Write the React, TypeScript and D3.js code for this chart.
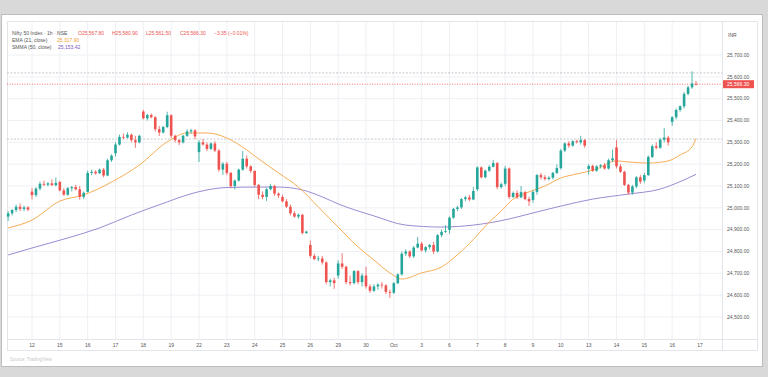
import React from 'react';
import * as d3 from 'd3';

// ---- Data (hourly candles, Nifty 50 Index, NSE) ----
const opens = [
  24960, 24975, 24990, 25005, 24995, 25002,
  25074, 25058, 25088, 25110, 25106, 25112, 25104,
  25118, 25080, 25060, 25090, 25095, 25085, 25050,
  25073, 25160, 25165, 25158, 25175, 25148, 25218,
  25250, 25290, 25325, 25322, 25335, 25310, 25300,
  25441, 25410, 25425, 25415, 25360, 25345, 25370,
  25424, 25330, 25310, 25300, 25330, 25350, 25355,
  25255, 25300, 25290, 25270, 25295, 25262, 25175,
  25202, 25160, 25100, 25125, 25175, 25225, 25190,
  25169, 25105, 25060, 25050, 25085, 25100, 25065,
  25050, 25030, 25005, 24975, 24960, 24968, 24885,
  24830, 24780, 24765, 24768, 24750, 24660, 24668,
  24690, 24745, 24730, 24660, 24655, 24710, 24660,
  24690, 24640, 24620, 24640, 24648, 24645, 24615,
  24611, 24655, 24695, 24790, 24800, 24778, 24818,
  24836, 24805, 24820, 24830, 24800, 24875, 24890,
  24899, 24955, 24995, 25002, 25040, 25048, 25038,
  25085, 25185, 25140, 25170, 25188, 25205, 25095,
  25110, 25180, 25050, 25068, 25048, 25072, 25040,
  25036, 25073, 25150, 25140, 25132, 25138, 25160,
  25182, 25262, 25295, 25285, 25305, 25300, 25310,
  25178, 25192, 25170, 25190, 25195, 25180, 25218,
  25277, 25190, 25165, 25105, 25070, 25098, 25140,
  25125, 25150, 25233, 25282, 25275, 25312, 25322,
  25394, 25415, 25448, 25465, 25522, 25552, 25567.8,
];
const highs = [
  24985, 24995, 25015, 25020, 25010, 25008,
  25090, 25095, 25120, 25125, 25118, 25130, 25139,
  25124, 25090, 25095, 25100, 25105, 25100, 25075,
  25170, 25175, 25172, 25180, 25182, 25225, 25245,
  25300, 25335, 25340, 25346, 25340, 25330, 25335,
  25449, 25430, 25432, 25420, 25375, 25375, 25440,
  25428, 25335, 25315, 25335, 25360, 25362, 25360,
  25310, 25315, 25300, 25300, 25305, 25270, 25210,
  25210, 25165, 25130, 25180, 25261, 25240, 25195,
  25171, 25110, 25075, 25090, 25110, 25105, 25070,
  25060, 25040, 25015, 24985, 24975, 24972, 24895,
  24850, 24790, 24780, 24780, 24755, 24675, 24680,
  24760, 24792, 24735, 24690, 24715, 24715, 24700,
  24731, 24650, 24650, 24655, 24660, 24650, 24625,
  24660, 24700, 24800, 24810, 24805, 24825, 24867,
  24845, 24825, 24835, 24845, 24880, 24900, 24920,
  24960, 25000, 25010, 25045, 25055, 25060, 25095,
  25190, 25190, 25175, 25195, 25220, 25210, 25115,
  25192, 25185, 25075, 25080, 25100, 25078, 25050,
  25080, 25155, 25160, 25150, 25145, 25165, 25199,
  25270, 25300, 25305, 25310, 25312, 25330, 25315,
  25200, 25198, 25195, 25200, 25205, 25225, 25267,
  25310, 25200, 25170, 25110, 25105, 25145, 25150,
  25160, 25240, 25290, 25300, 25320, 25365, 25330,
  25420, 25455, 25470, 25530, 25560, 25625, 25580.9,
];
const lows = [
  24940, 24965, 24980, 24985, 24985, 24985,
  25038, 25050, 25080, 25100, 25098, 25100, 25098,
  25075, 25055, 25055, 25075, 25080, 25038, 25040,
  25070, 25150, 25152, 25155, 25140, 25145, 25210,
  25235, 25285, 25315, 25318, 25300, 25275, 25295,
  25405, 25400, 25410, 25350, 25329, 25340, 25365,
  25320, 25300, 25287, 25295, 25325, 25340, 25315,
  25210, 25285, 25260, 25265, 25255, 25165, 25151,
  25150, 25090, 25084, 25120, 25170, 25180, 25160,
  25095, 25040, 25040, 25031, 25080, 25055, 25045,
  25025, 25000, 24965, 24955, 24950, 24878, 24880,
  24770, 24760, 24755, 24740, 24650, 24640, 24629,
  24675, 24720, 24650, 24645, 24650, 24650, 24640,
  24630, 24610, 24615, 24625, 24630, 24605, 24587,
  24605, 24650, 24690, 24780, 24770, 24770, 24815,
  24800, 24795, 24810, 24788, 24795, 24865, 24885,
  24882, 24950, 24985, 24995, 25030, 25030, 25035,
  25076, 25135, 25135, 25165, 25185, 25085, 25088,
  25100, 25040, 25045, 25040, 25045, 25035, 25009,
  25024, 25060, 25130, 25125, 25125, 25130, 25155,
  25175, 25255, 25275, 25280, 25295, 25290, 25275,
  25152, 25165, 25165, 25180, 25175, 25175, 25210,
  25180, 25160, 25100, 25060, 25060, 25090, 25110,
  25115, 25145, 25228, 25268, 25270, 25300, 25285,
  25376, 25405, 25440, 25455, 25515, 25545, 25561.5,
];
const closes = [
  24975, 24990, 25005, 24995, 25002, 24992,
  25058, 25088, 25110, 25106, 25112, 25104, 25114,
  25080, 25060, 25090, 25095, 25085, 25050, 25069,
  25160, 25165, 25158, 25175, 25148, 25218, 25239,
  25290, 25325, 25322, 25335, 25310, 25300, 25330,
  25410, 25425, 25415, 25360, 25345, 25370, 25424,
  25330, 25310, 25300, 25330, 25350, 25355, 25327,
  25300, 25290, 25270, 25295, 25262, 25175, 25202,
  25160, 25100, 25125, 25175, 25225, 25190, 25169,
  25105, 25060, 25050, 25085, 25100, 25065, 25057,
  25030, 25005, 24975, 24960, 24968, 24885, 24891,
  24780, 24765, 24768, 24750, 24660, 24668, 24655,
  24745, 24730, 24660, 24655, 24710, 24660, 24690,
  24640, 24620, 24640, 24648, 24645, 24615, 24611,
  24655, 24695, 24790, 24800, 24778, 24818, 24836,
  24805, 24820, 24830, 24800, 24875, 24890, 24894,
  24955, 24995, 25002, 25040, 25048, 25038, 25077,
  25185, 25140, 25170, 25188, 25205, 25095, 25108,
  25180, 25050, 25068, 25048, 25072, 25040, 25030,
  25073, 25150, 25140, 25132, 25138, 25160, 25182,
  25262, 25295, 25285, 25305, 25300, 25310, 25285,
  25192, 25170, 25190, 25195, 25180, 25218, 25227,
  25190, 25165, 25105, 25070, 25098, 25140, 25120,
  25150, 25233, 25282, 25275, 25312, 25322, 25300,
  25415, 25448, 25465, 25522, 25552, 25569.65, 25566.3,
];

// EMA (21, close) read at bar positions
const emaIdx = [0, 6, 13, 19, 26, 33, 40, 45, 50, 55, 60, 63, 68, 73, 78, 83, 88, 92, 96, 99, 104, 109, 113, 117, 121, 124, 127, 131, 135, 139, 143, 148, 153, 156, 161, 166, 169, 172, 173];
const emaVal = [24908, 24944, 25031, 25059, 25118, 25196, 25302, 25343, 25343, 25320, 25265, 25224, 25160, 25095, 25004, 24912, 24821, 24761, 24702, 24674, 24702, 24729, 24785, 24855, 24935, 24985, 25040, 25073, 25100, 25137, 25155, 25178, 25215, 25210, 25205, 25215, 25242, 25279, 25317.9];
// SMMA (50, close)
const smmaIdx = [0, 6, 15, 23, 31, 40, 45, 50, 55, 62, 68, 74, 79, 83, 92, 100, 109, 117, 126, 131, 139, 147, 156, 164, 169, 173];
const smmaVal = [24784, 24816, 24862, 24908, 24967, 25027, 25059, 25082, 25093, 25095, 25095, 25082, 25050, 25018, 24963, 24921, 24912, 24921, 24949, 24972, 25008, 25040, 25063, 25086, 25120, 25153.42];

const dayLabels = ['12', '15', '16', '17', '18', '19', '22', '23', '24', '25', '26', '29', '30', 'Oct', '3', '6', '7', '8', '9', '10', '13', '14', '15', '16', '17'];
const dayStartIdx = dayLabels.map((_, k) => 6 + 7 * k);
const priceTicks = [24500, 24600, 24700, 24800, 24900, 25000, 25100, 25200, 25300, 25400, 25500, 25600, 25700];
const lastPrice = 25566.3;
const levelLines = [25618, 25315];

const W = 768;
const H = 377;
const FONT = "'Liberation Sans', Arial, sans-serif";
const UP = '#26a69a';
const DOWN = '#ef5350';

export default function App() {
  const x = d3.scaleLinear().domain([6, 174]).range([32, 700]);
  const y = d3.scaleLinear().domain([24500, 25700]).range([317, 55]);
  const plotL = 7, plotR = 722, plotT = 21, plotB = 339, axisB = 350, boxR = 757;
  const fmt = d3.format(',.2f');

  const lineGen = d3
    .line<[number, number]>()
    .x((d) => x(d[0]))
    .y((d) => y(d[1]))
    .curve(d3.curveMonotoneX);
  const emaPath = lineGen(emaIdx.map((i, k) => [i, emaVal[k]]));
  const smmaPath = lineGen(smmaIdx.map((i, k) => [i, smmaVal[k]]));

  const bw = 2.6;

  return (
    <svg
      width={W}
      height={H}
      style={{ position: 'absolute', left: 0, top: 0, display: 'block' }}
      fontFamily={FONT}
    >
      <rect x={0} y={0} width={W} height={H} fill="#d9d9d9" />
      <rect x={1.5} y={14.5} width={761} height={352} fill="#ffffff" stroke="#bdbdbd" />

      {/* grid */}
      {dayStartIdx.map((i) =>
        x(i) < plotR ? (
          <line key={'vg' + i} x1={x(i)} x2={x(i)} y1={plotT} y2={plotB} stroke="#eef0f4" strokeWidth={1} />
        ) : null
      )}
      {priceTicks.map((p) => (
        <line key={'hg' + p} x1={plotL} x2={plotR} y1={y(p)} y2={y(p)} stroke="#eef0f4" strokeWidth={1} />
      ))}

      {/* frame */}
      <rect x={plotL + 0.5} y={plotT + 0.5} width={boxR - plotL} height={axisB - plotT} fill="none" stroke="#e3e5ea" />
      <line x1={plotR + 0.5} x2={plotR + 0.5} y1={plotT} y2={axisB} stroke="#e3e5ea" />
      <line x1={plotL} x2={boxR} y1={plotB + 0.5} y2={plotB + 0.5} stroke="#e3e5ea" />

      {/* level lines */}
      {levelLines.map((p) => (
        <line key={'lv' + p} x1={plotL} x2={plotR} y1={y(p)} y2={y(p)} stroke="#b8bbc2" strokeWidth={0.8} strokeDasharray="2,1.5" />
      ))}
      <line x1={plotL} x2={plotR} y1={y(lastPrice)} y2={y(lastPrice)} stroke={DOWN} strokeWidth={0.8} strokeDasharray="1,1.5" />

      {/* indicators */}
      <path d={smmaPath || ''} fill="none" stroke="#9c8bd3" strokeWidth={1} />
      <path d={emaPath || ''} fill="none" stroke="#f7ad55" strokeWidth={1} />

      {/* candles */}
      {closes.map((c, i) => {
        const o = opens[i];
        const col = c >= o ? UP : DOWN;
        const cx = x(i);
        const top = y(Math.max(o, c));
        const bot = y(Math.min(o, c));
        return (
          <g key={'c' + i}>
            <line x1={cx} x2={cx} y1={y(highs[i])} y2={y(lows[i])} stroke={col} strokeWidth={0.8} />
            <rect x={cx - bw / 2} y={top} width={bw} height={Math.max(0.8, bot - top)} fill={col} />
          </g>
        );
      })}

      {/* price axis */}
      <text x={728} y={37} fontSize={5} fill="#555">INR</text>
      {priceTicks.map((p) => (
        <text key={'pt' + p} x={727} y={y(p) + 1.8} fontSize={5} fill="#555">
          {fmt(p)}
        </text>
      ))}
      <rect x={723} y={y(lastPrice) - 4} width={31} height={8} fill={DOWN} />
      <text x={727} y={y(lastPrice) + 1.8} fontSize={5} fill="#ffffff">{fmt(lastPrice)}</text>

      {/* time axis */}
      {dayLabels.map((d, k) => (
        <text key={'dl' + k} x={x(dayStartIdx[k])} y={346.5} fontSize={5} fill="#555" textAnchor="middle">
          {d}
        </text>
      ))}

      {/* legend */}
      <text x={12} y={35} fontSize={5} fill="#555">Nifty 50 Index · 1h · NSE</text>
      <text x={78} y={35} fontSize={5} fill={DOWN}>O25,567.80</text>
      <text x={112} y={35} fontSize={5} fill={DOWN}>H25,580.90</text>
      <text x={146} y={35} fontSize={5} fill={DOWN}>L25,561.50</text>
      <text x={180} y={35} fontSize={5} fill={DOWN}>C25,566.30</text>
      <text x={214} y={35} fontSize={5} fill={DOWN}>−3.35 (−0.01%)</text>
      <text x={12} y={42.4} fontSize={5} fill="#555">EMA (21, close)</text>
      <text x={57} y={42.4} fontSize={5} fill="#f5a030">25,317.90</text>
      <text x={12} y={48.6} fontSize={5} fill="#555">SMMA (50, close)</text>
      <text x={58} y={48.6} fontSize={5} fill="#7e57c2">25,153.42</text>

      <text x={10} y={361} fontSize={4.5} fill="#c8c8c8">Source: TradingView</text>
    </svg>
  );
}
